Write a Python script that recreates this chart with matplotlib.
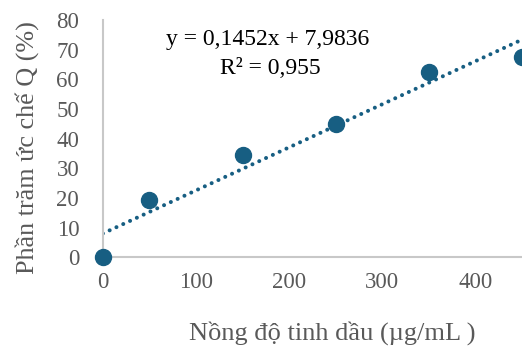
import numpy as np
import matplotlib
matplotlib.use("Agg")
import matplotlib.pyplot as plt

plt.rcParams['font.family'] = ['Liberation Serif', 'DejaVu Serif']

conc = [0, 50, 150, 250, 350, 450]
inhib = [0, 19.2, 34.3, 45.0, 62.5, 67.4]
slope, intercept = 0.1452, 7.9836
r2_text = "R² = 0,955"
eq_text = "y = 0,1452x + 7,9836"

color = '#175E82'
gray = '#595959'

fig = plt.figure(figsize=(5.22, 3.48), dpi=100)
ax = fig.add_axes([0.197, 0.261, 0.803, 0.682])

# trendline
xt = np.array([0, 450])
ax.plot(xt, slope * xt + intercept, color=color, lw=2.9,
        linestyle=(0, (0.01, 1.85)), dash_capstyle='round', zorder=2)
ax.plot(conc, inhib, 'o', color=color, ms=11.5, clip_on=False, zorder=3)

ax.set_xlim(0, 450)
ax.set_ylim(0, 80)
ax.set_xticks([0, 100, 200, 300, 400])
ax.set_yticks(range(0, 81, 10))
for s in ['top', 'right']:
    ax.spines[s].set_visible(False)
for s in ['left', 'bottom']:
    ax.spines[s].set_color('#C8C8C8')
    ax.spines[s].set_linewidth(1.5)
ax.tick_params(axis='both', length=0, labelsize=16.5, labelcolor=gray)
ax.tick_params(axis='x', pad=11)
ax.tick_params(axis='y', pad=17)

# axis titles (Excel places them relative to the full plot area)
fig.text(332 / 522, 1 - 333 / 348, "Nồng độ tinh dầu (µg/mL )", fontsize=19,
         color=gray, ha='center', va='center')
fig.text(27 / 522, 1 - 148 / 348, "Phần trăm ức chế Q (%)", fontsize=18.8,
         color=gray, ha='center', va='center', rotation=90)

fig.text(268 / 522, 1 - 40 / 348, eq_text, ha='center', va='center', fontsize=17, color='black')
fig.text(270 / 522, 1 - 68 / 348, r2_text, ha='center', va='center', fontsize=17, color='black')

fig.savefig('out.png', dpi=100)
